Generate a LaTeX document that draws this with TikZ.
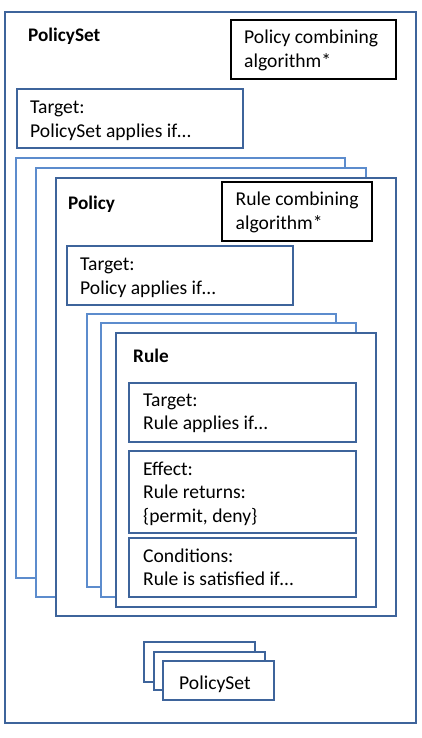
\documentclass[tikz,border=0pt]{standalone}
\usepackage{fontspec}
\setmainfont{Carlito}
\definecolor{dkblue}{RGB}{62,100,155}
\definecolor{ltblue}{RGB}{92,140,205}
\begin{document}
\begin{tikzpicture}[x=1pt,y=-1pt,
  dbox/.style={draw=dkblue,line width=1.4pt,fill=white},
  lbox/.style={draw=ltblue,line width=1.4pt,fill=white},
  kbox/.style={draw=black,line width=1.4pt,fill=white},
  txt/.style={inner sep=0pt,anchor=base west,font=\fontsize{19.6}{23.5}\selectfont},
  ttl/.style={inner sep=0pt,anchor=base west,font=\fontsize{19.2}{23.5}\selectfont\bfseries}]
\useasboundingbox (0,0) rectangle (422,738);
% outer PolicySet
\draw[dbox] (5,12) rectangle (416,723);
\node[ttl] (psTitle) at (28,42) {PolicySet};
\draw[kbox] (231,20) rectangle (396,79);
\node[txt] (pca1) at (244,44) {Policy combining};
\node[txt] (pca2) at (244,67.5) {algorithm*};
\draw[dbox] (17,89) rectangle (243,148);
\node[txt] (pst1) at (30,114) {Target:};
\node[txt] (pst2) at (30,137.5) {PolicySet applies if\ldots};
% policy stack
\draw[lbox] (16,158) rectangle (345,578);
\draw[lbox] (36,168) rectangle (366,597);
\draw[dbox] (56,178) rectangle (396,616);
\node[ttl] (polTitle) at (68,209) {Policy};
\draw[kbox] (222,182) rectangle (372,241);
\node[txt] (rca1) at (235.5,205.5) {Rule combining};
\node[txt] (rca2) at (235.5,229) {algorithm*};
\draw[dbox] (67,246) rectangle (293,305);
\node[txt] (pt1) at (80,270.5) {Target:};
\node[txt] (pt2) at (80,294) {Policy applies if\ldots};
% rule stack
\draw[lbox] (87,314) rectangle (336,587);
\draw[lbox] (101,323) rectangle (356,597);
\draw[dbox] (116,333) rectangle (376,607);
\node[ttl] (ruleTitle) at (133,362) {Rule};
\draw[dbox] (129,383) rectangle (356,442);
\node[txt] (rt1) at (143,406) {Target:};
\node[txt] (rt2) at (143,429.5) {Rule applies if\ldots};
\draw[dbox] (129,451) rectangle (356,533);
\node[txt] (re1) at (143,475) {Effect:};
\node[txt] (re2) at (143,498.5) {Rule returns:};
\node[txt] (re3) at (143,522) {\{permit, deny\}};
\draw[dbox] (129,538) rectangle (356,597);
\node[txt] (rc1) at (143,562) {Conditions:};
\node[txt] (rc2) at (143,585.5) {Rule is satisfied if\ldots};
% nested policysets
\draw[dbox] (144,642) rectangle (255,682);
\draw[dbox] (154,652) rectangle (265,690);
\draw[dbox] (163,661) rectangle (274,700);
\node[txt] (ps2) at (179,689) {PolicySet};
\end{tikzpicture}
\end{document}
